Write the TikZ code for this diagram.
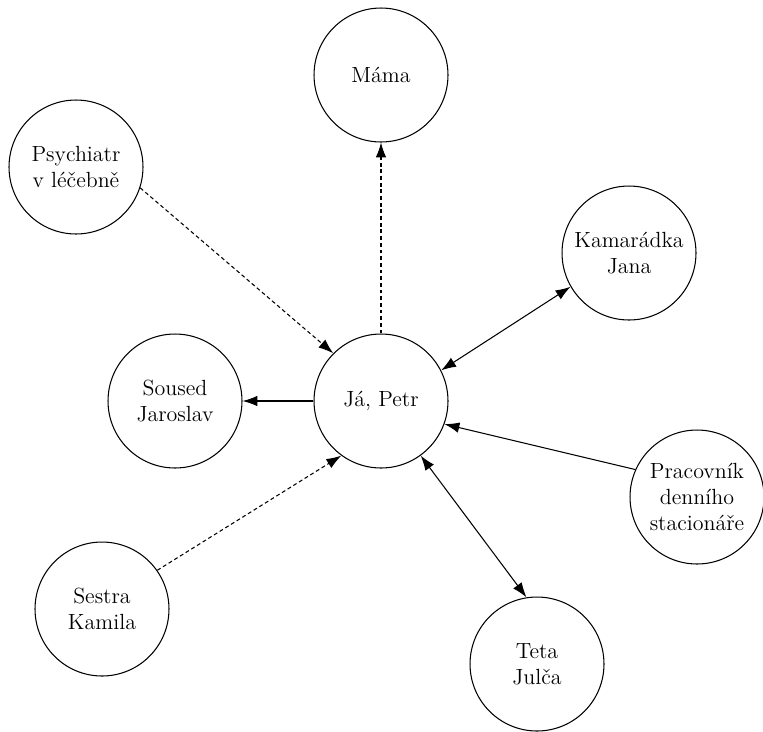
\documentclass[tikz,border=0pt]{standalone}
\usepackage{tikz}
\usetikzlibrary{positioning,arrows.meta}

\begin{document}
\begin{tikzpicture}[
  x=0.02cm, y=-0.02cm,
  person/.style={circle, draw, line width=0.6pt, minimum size=2.68cm,
                 inner sep=0pt, align=center, font=\fontsize{12.5}{15}\selectfont},
  arr/.style={-{Latex[length=8.5pt,width=6pt]}, line width=0.6pt},
  darr/.style={arr, dash pattern=on 2.2pt off 1.6pt},
  barr/.style={{Latex[length=8.5pt,width=6pt]}-{Latex[length=8.5pt,width=6pt]}, line width=0.6pt}
]
\useasboundingbox (0,0) rectangle (763,731);
\node[person] (ja) at (381,401) {J\'a, Petr};
\node[person] (mama) at (381,75) {M\'ama};
\node[person] (psych) at (76,167) {Psychiatr\\v l\'e\v{c}ebn\v{e}};
\node[person] (jana) at (629,253) {Kamar\'adka\\Jana};
\node[person] (soused) at (175,401) {Soused\\Jaroslav};
\node[person] (prac) at (697,497) {Pracovn\'ik\\denn\'iho\\stacion\'a\v{r}e};
\node[person] (sestra) at (102,609) {Sestra\\Kamila};
\node[person] (teta) at (537,664) {Teta\\Jul\v{c}a};
\draw[darr] (ja.north) -- (mama.south);
\draw[darr] (psych.-18) -- (ja.135);
\draw[barr] (ja.27) -- (jana.210);
\draw[arr] (ja.west) -- (soused.east);
\draw[arr] (prac.156) -- (ja.-20);
\draw[darr] (sestra.35) -- (ja.-126);
\draw[barr] (ja.-54) -- (teta.99);
\end{tikzpicture}
\end{document}
